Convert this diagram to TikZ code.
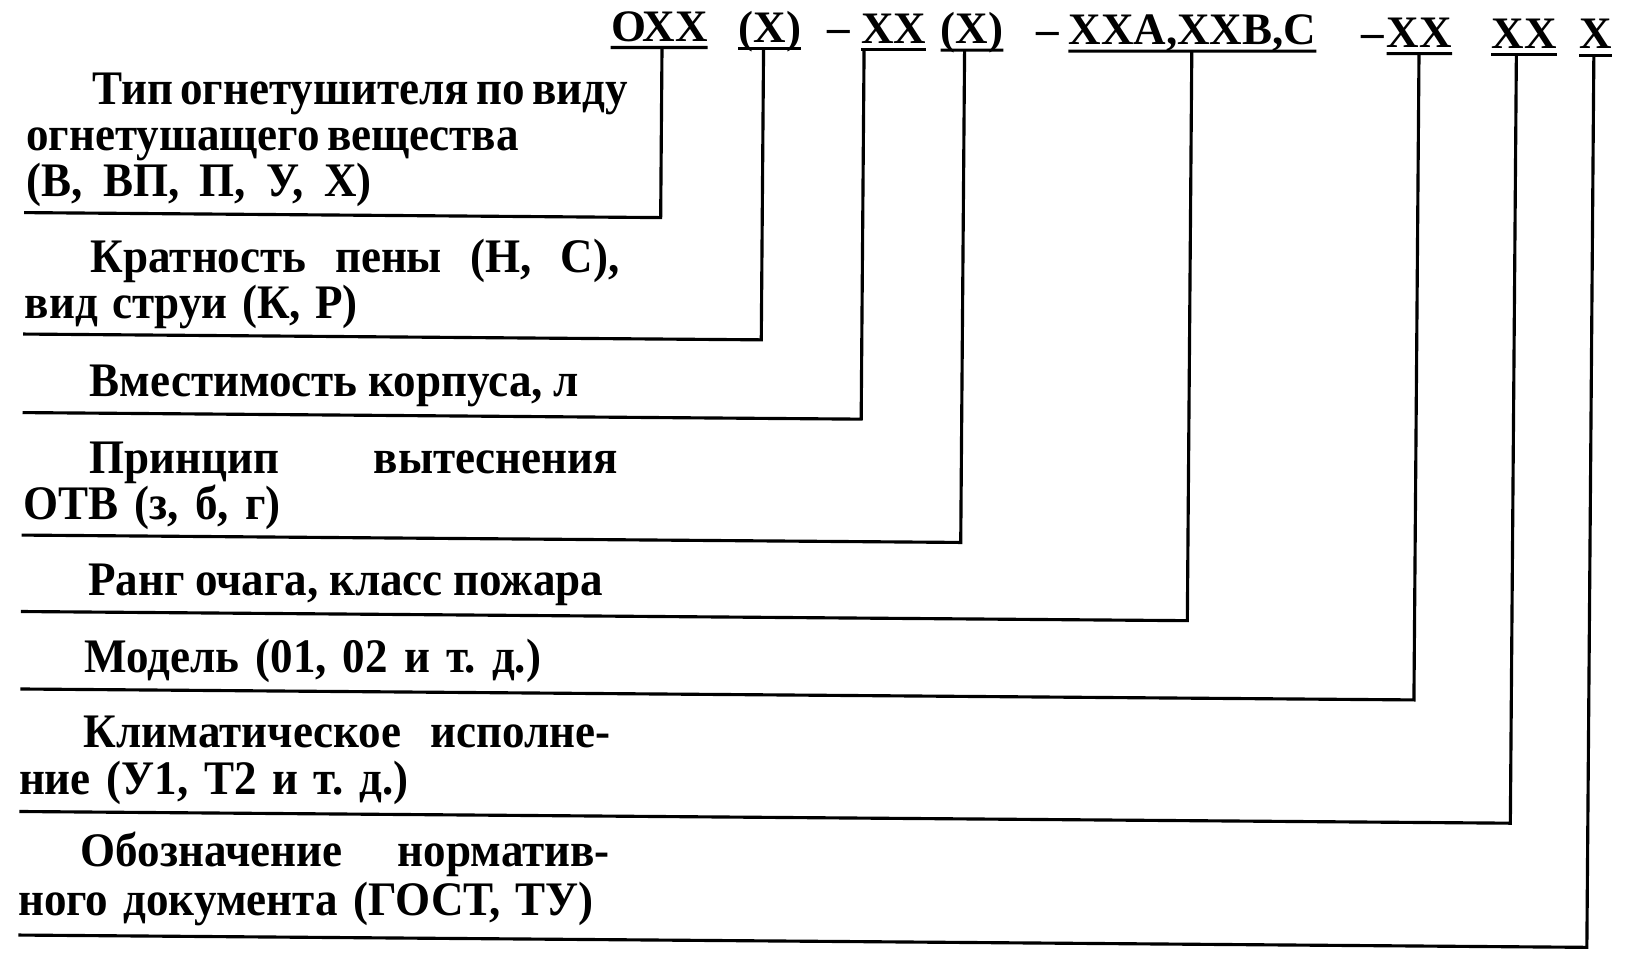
\documentclass[tikz,border=0pt]{standalone}
\usepackage{fontspec}
\setmainfont{Liberation Serif}
\newfontfamily\lblfont{Liberation Serif}[FakeStretch=0.935]
\newcommand\jl[3]{\hspace*{#1}{\spaceskip=0pt\xspaceskip=0pt\makebox[#2][s]{#3}}}
\begin{document}
\begin{tikzpicture}[x=1pt,y=-1pt,
  lbl/.style={anchor=base west, inner sep=0pt, text width=600pt,
              font=\lblfont\bfseries\fontsize{46}{44}\selectfont\frenchspacing,
              execute at begin node={\spaceskip=0pt\xspaceskip=0pt}},
  code/.style={anchor=base west, inner sep=0pt, font=\bfseries\fontsize{43}{44}\selectfont},
  ul/.style={line width=3pt},
  conn/.style={line width=3pt, line join=miter}]
\fill[white] (0,0) rectangle (1568,912);
\useasboundingbox (0,0) rectangle (1568,912);
\begin{scope}[rotate around={-0.45:(784,456)}]
% header codes
\node[code] (h1) at (580,41) {ОХХ};
\node[code] (h2) at (702,41) {(Х)};
\node[code] (d1) at (787,41) {–};
\node[code] (h3) at (819,41) {ХХ};
\node[code] (h4) at (895,41) {(Х)};
\node[code] (d2) at (986,41) {–};
\node[code] (h5) at (1017,41) {ХХА,ХХВ,С};
\node[code] (d3) at (1297,41) {–};
\node[code] (h6) at (1321,41) {ХХ};
\node[code] (h7) at (1421,41) {ХХ};
\node[code] (h8) at (1505,41) {Х};
\foreach \h in {h1,h2,h3,h4,h5,h6,h7,h8}
  \draw[ul] ([yshift=-6pt]\h.base west) -- ([yshift=-6pt]\h.base east);
% labels
\node[lbl] (l1) at (22,106) {\jl{63pt}{510pt}{Тип огнетушителя по виду}\\\jl{0pt}{470pt}{огнетушащего вещества}\\\jl{0pt}{330pt}{(В, ВП, П, У, Х)}};
\node[lbl] (l2) at (22,266) {\jl{63pt}{505pt}{Кратность пены (Н, С),}\\\jl{0pt}{318pt}{вид струи (К, Р)}};
\node[lbl] (l3) at (22,385) {\jl{63pt}{467pt}{Вместимость корпуса, л}};
\node[lbl] (l4) at (22,458) {\jl{63pt}{505pt}{Принцип вытеснения}\\\jl{0pt}{246pt}{ОТВ (з, б, г)}};
\node[lbl] (l5) at (22,575) {\jl{63pt}{492pt}{Ранг очага, класс пожара}};
\node[lbl] (l6) at (21,648) {\jl{61pt}{436pt}{Модель (01, 02 и т. д.)}};
\node[lbl,font=\lblfont\bfseries\fontsize{46}{45}\selectfont\frenchspacing] (l7) at (20,720) {\jl{62pt}{503pt}{Климатическое исполне-}\\\jl{0pt}{372pt}{ние (У1, Т2 и т. д.)}};
\node[lbl,font=\lblfont\bfseries\fontsize{46}{47}\selectfont\frenchspacing] (l8) at (20,833) {\jl{60pt}{505pt}{Обозначение норматив-}\\\jl{0pt}{550pt}{ного документа (ГОСТ, ТУ)}};
% connector tops and left ends
\coordinate (t1) at (629,47);  \coordinate (e1) at (21,209);
\coordinate (t2) at (726,47);  \coordinate (e2) at (21,325);
\coordinate (t3) at (822,47);  \coordinate (e3) at (21,400);
\coordinate (t4) at (918,47);  \coordinate (e4) at (21,517);
\coordinate (t5) at (1135,47); \coordinate (e5) at (21,590);
\coordinate (t6) at (1352,47); \coordinate (e6) at (21,664);
\coordinate (t7) at (1445,47); \coordinate (e7) at (21,781);
\coordinate (t8) at (1519,47); \coordinate (e8) at (21,899);
\foreach \i in {1,...,8}
  \draw[conn] (t\i) |- (e\i);
\end{scope}
\end{tikzpicture}
\end{document}
